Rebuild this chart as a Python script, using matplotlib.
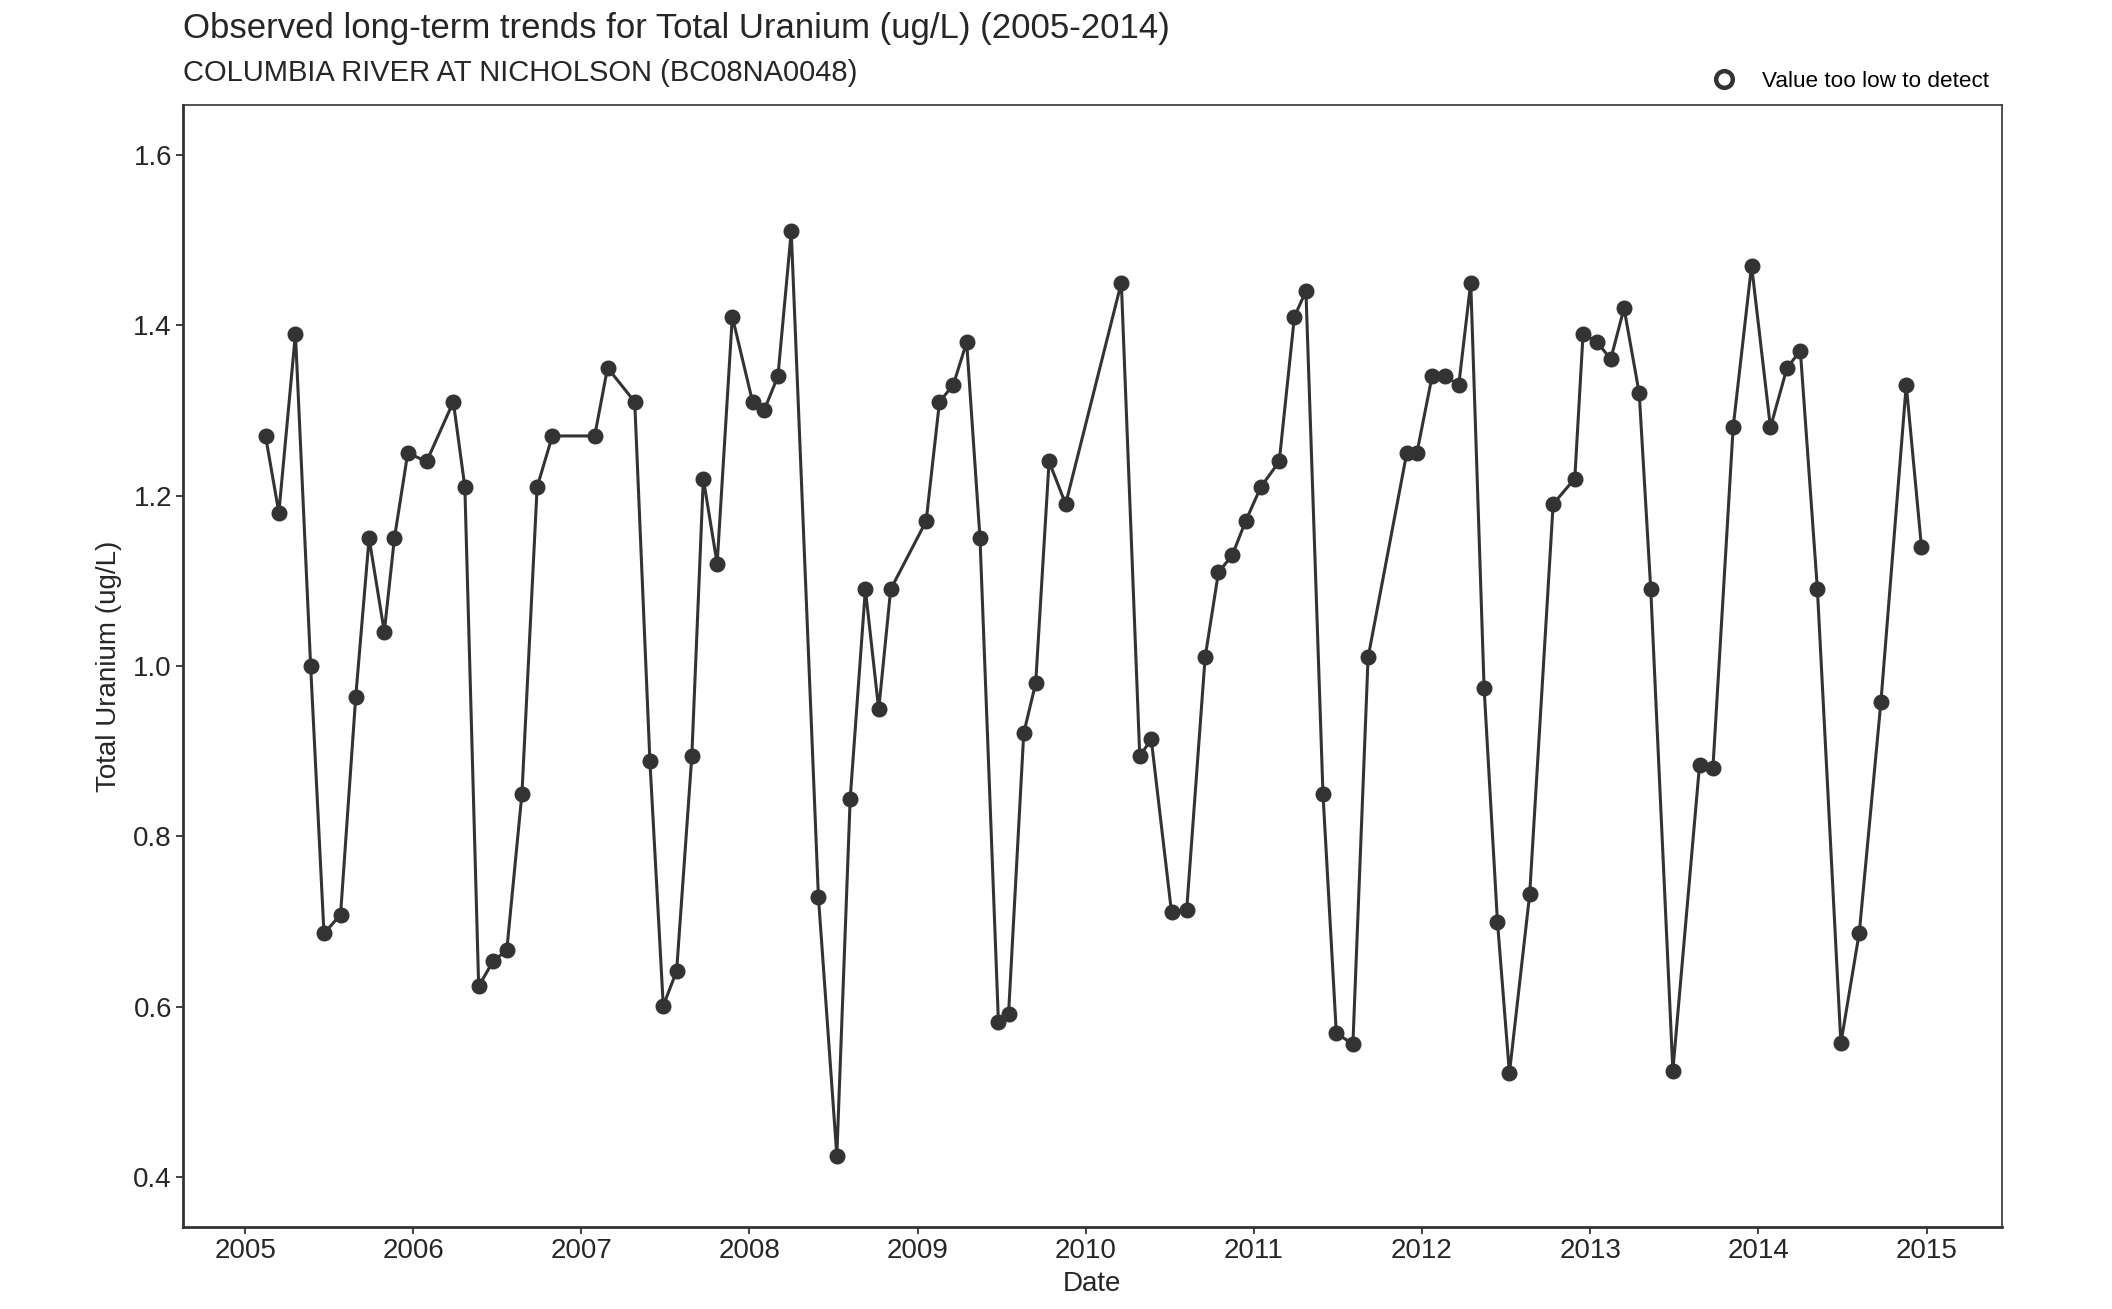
import numpy as np
import pandas as pd
import matplotlib
matplotlib.use("Agg")
import matplotlib.pyplot as plt
import matplotlib.dates as mdates
from matplotlib.lines import Line2D

plt.rcParams['font.family'] = ['Liberation Sans', 'DejaVu Sans']

title = "Observed long-term trends for Total Uranium (ug/L) (2005-2014)"
subtitle = "COLUMBIA RIVER AT NICHOLSON (BC08NA0048)"

dates = [
    "2005-02-14", "2005-03-15", "2005-04-20", "2005-05-23", "2005-06-21", "2005-07-27",
    "2005-08-29", "2005-09-27", "2005-10-30", "2005-11-21", "2005-12-20",
    "2006-01-30", "2006-03-29", "2006-04-23", "2006-05-23", "2006-06-24", "2006-07-23",
    "2006-08-25", "2006-09-27", "2006-10-30",
    "2007-01-30", "2007-02-27", "2007-04-27", "2007-05-30", "2007-06-28", "2007-07-27",
    "2007-08-29", "2007-09-23", "2007-10-23", "2007-11-25",
    "2008-01-08", "2008-02-02", "2008-03-03", "2008-04-01", "2008-05-30", "2008-07-09",
    "2008-08-07", "2008-09-09", "2008-10-08", "2008-11-03",
    "2009-01-19", "2009-02-17", "2009-03-19", "2009-04-17", "2009-05-16", "2009-06-25",
    "2009-07-17", "2009-08-19", "2009-09-14", "2009-10-13", "2009-11-18",
    "2010-03-19", "2010-04-28", "2010-05-23", "2010-07-06", "2010-08-08", "2010-09-17",
    "2010-10-16", "2010-11-15", "2010-12-14",
    "2011-01-16", "2011-02-25", "2011-03-30", "2011-04-24", "2011-05-31", "2011-06-29",
    "2011-08-04", "2011-09-06", "2011-11-29", "2011-12-21",
    "2012-01-23", "2012-02-21", "2012-03-21", "2012-04-16", "2012-05-15", "2012-06-13",
    "2012-07-09", "2012-08-22", "2012-10-12", "2012-11-28", "2012-12-16",
    "2013-01-16", "2013-02-14", "2013-03-15", "2013-04-17", "2013-05-12", "2013-06-29",
    "2013-08-26", "2013-09-24", "2013-11-07", "2013-12-17",
    "2014-01-27", "2014-03-04", "2014-04-02", "2014-05-09", "2014-06-29", "2014-08-08",
    "2014-09-24", "2014-11-18", "2014-12-21",
]
uranium = [
    1.27, 1.18, 1.39, 1.00, 0.686, 0.708, 0.964, 1.15, 1.04, 1.15, 1.25,
    1.24, 1.31, 1.21, 0.624, 0.654, 0.666, 0.85, 1.21, 1.27,
    1.27, 1.35, 1.31, 0.888, 0.601, 0.642, 0.894, 1.22, 1.12, 1.41,
    1.31, 1.30, 1.34, 1.51, 0.729, 0.425, 0.844, 1.09, 0.949, 1.09,
    1.17, 1.31, 1.33, 1.38, 1.15, 0.582, 0.591, 0.921, 0.98, 1.24, 1.19,
    1.45, 0.894, 0.914, 0.711, 0.714, 1.01, 1.11, 1.13, 1.17,
    1.21, 1.24, 1.41, 1.44, 0.85, 0.569, 0.556, 1.01, 1.25, 1.25,
    1.34, 1.34, 1.33, 1.45, 0.974, 0.70, 0.522, 0.732, 1.19, 1.22, 1.39,
    1.38, 1.36, 1.42, 1.32, 1.09, 0.525, 0.884, 0.88, 1.28, 1.47,
    1.28, 1.35, 1.37, 1.09, 0.557, 0.687, 0.958, 1.33, 1.14,
]
year_ticks = [str(y) for y in range(2005, 2016)]
y_ticks = [0.4, 0.6, 0.8, 1.0, 1.2, 1.4, 1.6]

x = pd.to_datetime(dates)
dark = "#333333"

fig = plt.figure(figsize=(21.12, 13.09), dpi=100)
ax = fig.add_axes([0.0867, 0.0627, 0.861, 0.8571])

ax.plot(x, uranium, color=dark, lw=2.2, zorder=2)
ax.plot(x, uranium, 'o', color=dark, ms=10.5, zorder=3)

ax.set_xlim(pd.Timestamp("2004-08-19"), pd.Timestamp("2015-06-13"))
ax.set_ylim(0.3415, 1.6585)
ax.set_xticks(pd.to_datetime([y + "-01-01" for y in year_ticks]))
ax.xaxis.set_major_formatter(mdates.DateFormatter("%Y"))
ax.set_yticks(y_ticks)
ax.set_yticklabels([f"{v:.1f}" for v in y_ticks])

ax.tick_params(axis='both', direction='out', length=5, width=1.3, color=dark,
               labelsize=20, labelcolor='#262626', pad=3)
for s in ['top', 'right']:
    ax.spines[s].set_linewidth(1.2)
    ax.spines[s].set_color(dark)
for s in ['left', 'bottom']:
    ax.spines[s].set_linewidth(2.0)
    ax.spines[s].set_color(dark)

ax.set_xlabel("Date", fontsize=20, color='#262626', labelpad=5)
ax.set_ylabel("Total Uranium (ug/L)", fontsize=20, color='#262626', labelpad=8)

fig.text(0.0867, 0.978, title, fontsize=25, color='#262626', va='center', ha='left')
fig.text(0.0867, 0.944, subtitle, fontsize=21, color='#262626', va='center', ha='left')

handle = Line2D([], [], marker='o', ls='none', mfc='white', mec=dark, mew=3.2, ms=12)
fig.legend([handle], ["Value too low to detect"], loc='center right',
           bbox_to_anchor=(0.946, 0.938), frameon=False, fontsize=16.2,
           handletextpad=0.7, borderaxespad=0)

fig.savefig("out.png", dpi=100)
